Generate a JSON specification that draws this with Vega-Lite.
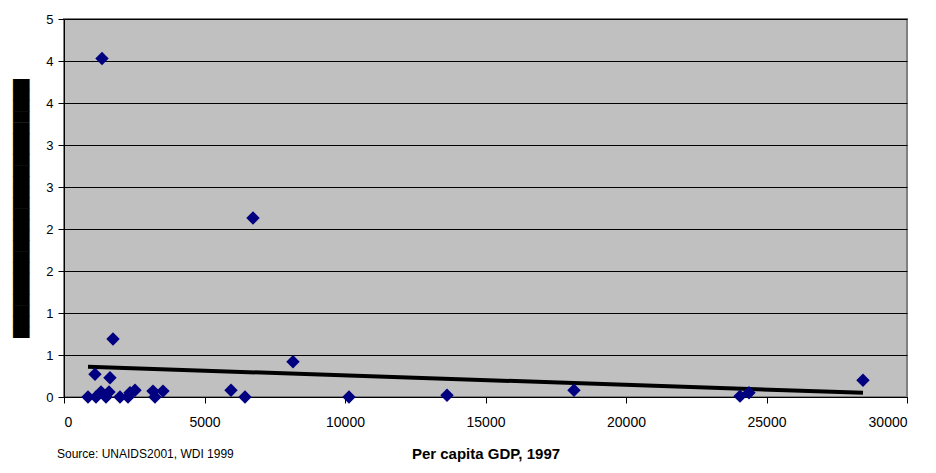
{
  "$schema": "https://vega.github.io/schema/vega-lite/v6.json",
  "width": 843,
  "height": 378,
  "autosize": "none",
  "padding": {"left": 64, "top": 19, "right": 29, "bottom": 76},
  "background": "white",
  "config": {
    "view": {"fill": "#C0C0C0", "stroke": "#808080", "strokeWidth": 2},
    "font": "Liberation Sans"
  },
  "title": {
    "text": "Source: UNAIDS2001, WDI 1999",
    "orient": "bottom",
    "anchor": "start",
    "frame": "group",
    "fontSize": 12,
    "fontWeight": "normal",
    "font": "Liberation Sans",
    "color": "black",
    "offset": -12,
    "dx": -7
  },
  "datasets": {
    "pts": [
      {"gdp": 854, "value": 0.0},
      {"gdp": 1103, "value": 0.27},
      {"gdp": 1139, "value": 0.0},
      {"gdp": 1352, "value": 4.03},
      {"gdp": 1317, "value": 0.06},
      {"gdp": 1495, "value": 0.0},
      {"gdp": 1601, "value": 0.06},
      {"gdp": 1637, "value": 0.23},
      {"gdp": 1744, "value": 0.69},
      {"gdp": 1993, "value": 0.0},
      {"gdp": 2278, "value": 0.0},
      {"gdp": 2349, "value": 0.05},
      {"gdp": 2527, "value": 0.08},
      {"gdp": 3167, "value": 0.07},
      {"gdp": 3238, "value": 0.0},
      {"gdp": 3523, "value": 0.07},
      {"gdp": 5943, "value": 0.08},
      {"gdp": 6441, "value": 0.0},
      {"gdp": 6726, "value": 2.13},
      {"gdp": 8149, "value": 0.42},
      {"gdp": 10142, "value": 0.0},
      {"gdp": 13630, "value": 0.02},
      {"gdp": 18149, "value": 0.08},
      {"gdp": 24057, "value": 0.01},
      {"gdp": 24377, "value": 0.05},
      {"gdp": 28434, "value": 0.2}
    ],
    "trend": [
      {"gdp": 854, "value": 0.36},
      {"gdp": 28434, "value": 0.05}
    ]
  },
  "encoding": {
    "x": {
      "field": "gdp",
      "type": "quantitative",
      "scale": {"domain": [0, 30000], "nice": false, "zero": false},
      "axis": {
        "values": [0, 5000, 10000, 15000, 20000, 25000, 30000],
        "format": "d",
        "grid": false,
        "domainColor": "black",
        "tickColor": "black",
        "tickSize": 6,
        "labelFontSize": 14,
        "labelColor": "black",
        "labelPadding": 12,
        "labelFont": "Liberation Sans",
        "title": "Per capita GDP, 1997",
        "titleFont": "Liberation Sans",
        "titleFontSize": 15,
        "titleFontWeight": "bold",
        "titleColor": "black",
        "titlePadding": 17
      }
    },
    "y": {
      "field": "value",
      "type": "quantitative",
      "scale": {"domain": [0, 4.5], "nice": false},
      "axis": {
        "values": [0, 0.5, 1, 1.5, 2, 2.5, 3, 3.5, 4, 4.5],
        "format": ".0f",
        "grid": true,
        "gridColor": "black",
        "gridOpacity": 1,
        "gridWidth": 1,
        "domainColor": "black",
        "tickColor": "black",
        "tickSize": 6,
        "labelFontSize": 13,
        "labelColor": "black",
        "labelPadding": 5,
        "labelFont": "Liberation Sans",
        "title": "████████████████████████",
        "titleFont": "DejaVu Sans",
        "titleFontSize": 14,
        "titleFontWeight": "normal",
        "titleColor": "black",
        "titlePadding": 17
      }
    }
  },
  "layer": [
    {
      "data": {"name": "trend"},
      "mark": {"type": "line", "color": "black", "strokeWidth": 4}
    },
    {
      "data": {"name": "pts"},
      "mark": {"type": "point", "shape": "diamond", "filled": true, "color": "#000080", "size": 180, "opacity": 1}
    }
  ]
}
